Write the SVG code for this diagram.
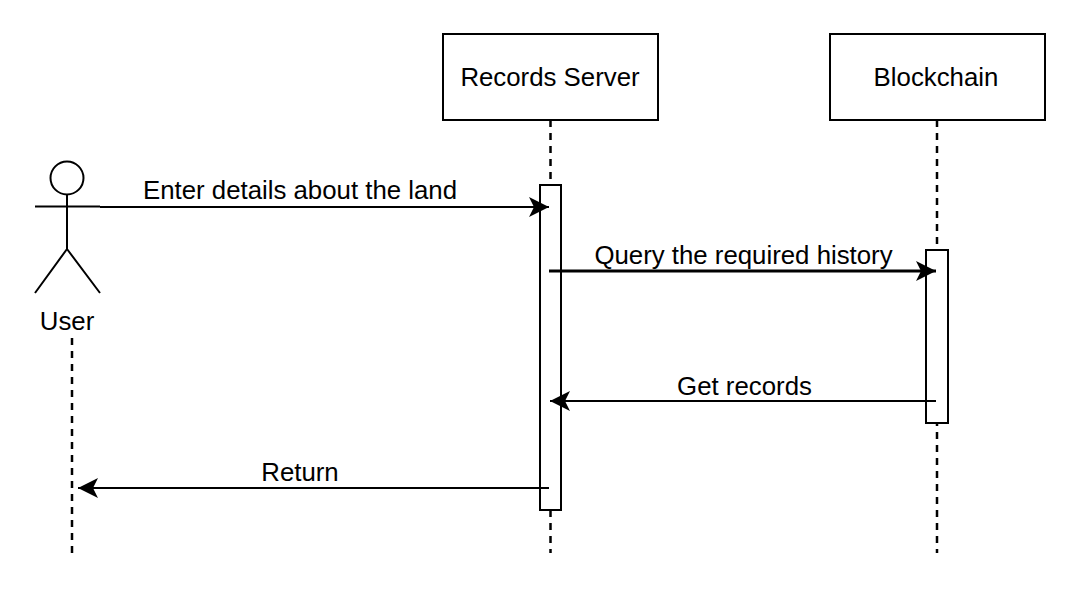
<svg xmlns="http://www.w3.org/2000/svg" width="1090" height="600" viewBox="0 0 1090 600">
<style>
.s{fill:#fff;stroke:#000;stroke-width:2}
.l{fill:none;stroke:#000;stroke-width:2}
.t{fill:none;stroke:#000;stroke-width:3}
.d{fill:none;stroke:#000;stroke-width:2.500;stroke-dasharray:7 6}
text{font-family:"Liberation Sans",Arial,sans-serif;font-size:25.8px;fill:#000;text-anchor:middle}
</style>
<defs><marker id="a" markerUnits="userSpaceOnUse" markerWidth="22" markerHeight="22" refX="20" refY="10" orient="auto"><path d="M0 0 L20 10 L0 20 L5 10Z" fill="#000"/></marker></defs>
<rect width="1090" height="600" fill="#fff"/>
<g id="user"><circle class="s" cx="67" cy="178" r="16.5"/><path class="l" d="M67 194V249M35 206.500H100M67 249L35 293M67 249L100 293"/><text x="67" y="329.500">User</text><path class="d" d="M72 338V553"/></g>
<g id="records-server"><path class="d" d="M550.500 120V553"/><rect class="s" x="443" y="34" width="215" height="86"/><text x="550" y="86">Records Server</text><rect class="s" x="540" y="185" width="21" height="325"/></g>
<g id="blockchain"><path class="d" d="M937 120V553"/><rect class="s" x="830" y="34" width="215" height="86"/><text x="936" y="86">Blockchain</text><rect class="s" x="926" y="250" width="22" height="173"/></g>
<g id="connectors"><path class="l" d="M100 207H549" marker-end="url(#a)"/><path class="t" d="M549 271H936" marker-end="url(#a)"/><path class="l" d="M936 401H550" marker-end="url(#a)"/><path class="l" d="M549 488H78" marker-end="url(#a)"/>
<text x="300" y="199">Enter details about the land</text><text x="743.500" y="263.500">Query the required history</text><text x="744.500" y="394.500">Get records</text><text x="300" y="480.500">Return</text></g>
</svg>
